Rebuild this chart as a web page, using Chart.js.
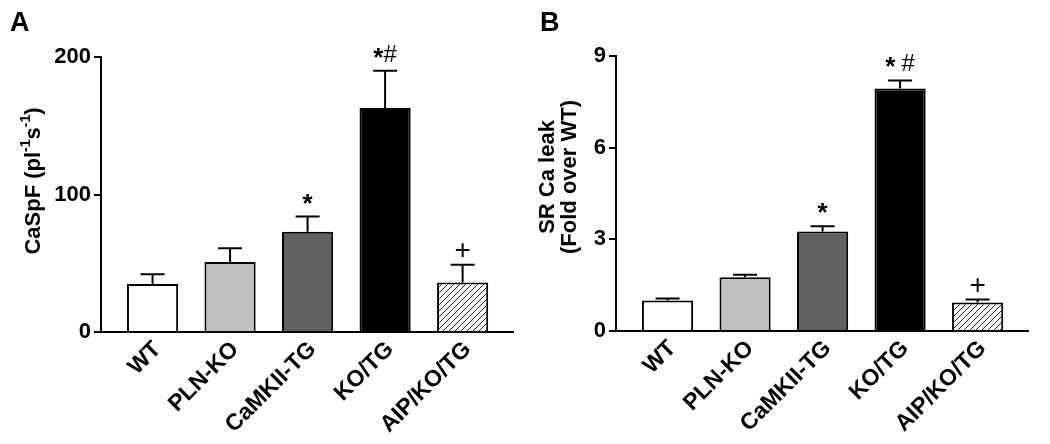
<!DOCTYPE html>
<html>
<head>
<meta charset="utf-8">
<script src="https://cdn.jsdelivr.net/npm/chart.js@4.4.0/dist/chart.umd.min.js"></script>
<style>
  html, body { margin: 0; padding: 0; background: #fff; }
  #wrap { position: relative; width: 1050px; height: 444px; }
  .panel { position: absolute; top: 0; height: 444px; }
  #pa { left: 0; width: 520px; }
  #pb { left: 520px; width: 530px; }
</style>
</head>
<body>
<div id="wrap">
  <div class="panel" id="pa"><canvas id="chartA"></canvas></div>
  <div class="panel" id="pb"><canvas id="chartB"></canvas></div>
</div>
<script>
// data
const categories = ['WT', 'PLN-KO', 'CaMKII-TG', 'KO/TG', 'AIP/KO/TG'];

const sparkMeans = [35, 51, 73, 163, 36];
const sparkSem   = [7, 10, 11, 27, 13];
const sparkMarks = ['', '', '*', '*#', '+'];
const sparkTicks = [0, 100, 200];

const leakMeans = [1.0, 1.76, 3.26, 7.94, 0.93];
const leakSem   = [0.06, 0.08, 0.17, 0.26, 0.10];
const leakMarks = ['', '', '*', '* #', '+'];
const leakTicks = [0, 3, 6, 9];

const FONT = "'Liberation Sans', Arial, Helvetica, sans-serif";

// per-glyph font and baseline shift for significance marks
const markStyle = {
  '*': { font: 'bold 26px ' + FONT, dy: -5 },
  '#': { font: '24px ' + FONT, dy: -9 },
  '+': { font: '28px ' + FONT, dy: -6 },
  ' ': { font: '22px ' + FONT, dy: 0 }
};

function hatchPattern(ctx) {
  const c = document.createElement('canvas');
  c.width = 6; c.height = 6;
  const g = c.getContext('2d');
  g.fillStyle = '#fff';
  g.fillRect(0, 0, 6, 6);
  g.strokeStyle = '#222';
  g.lineWidth = 1;
  g.beginPath();
  g.moveTo(0, 6); g.lineTo(6, 0);
  g.moveTo(-1, 1); g.lineTo(1, -1);
  g.moveTo(5, 7); g.lineTo(7, 5);
  g.stroke();
  return ctx.createPattern(c, 'repeat');
}

function drawRotatedTitle(ctx, cx, cy, segments) {
  ctx.save();
  ctx.translate(cx, cy);
  ctx.rotate(-Math.PI / 2);
  ctx.fillStyle = '#000';
  ctx.textBaseline = 'middle';
  ctx.textAlign = 'left';
  let total = 0;
  segments.forEach(s => {
    ctx.font = s.sup ? 'bold 14px ' + FONT : 'bold 22px ' + FONT;
    s.w = ctx.measureText(s.text).width;
    total += s.w;
  });
  let x = -total / 2;
  segments.forEach(s => {
    ctx.font = s.sup ? 'bold 14px ' + FONT : 'bold 22px ' + FONT;
    ctx.fillText(s.text, x, s.sup ? -8 : 0);
    x += s.w;
  });
  ctx.restore();
}

function overlay(means, sem, marks, letter, letterX, titleFn) {
  return {
    id: 'overlay',
    afterDatasetsDraw(chart) {
      const { ctx, scales: { x, y } } = chart;
      ctx.save();
      // error bars (upper only)
      ctx.strokeStyle = '#000';
      ctx.lineWidth = 2;
      means.forEach((m, i) => {
        const px = x.getPixelForValue(i);
        const y0 = y.getPixelForValue(m);
        const y1 = y.getPixelForValue(m + sem[i]);
        ctx.beginPath();
        ctx.moveTo(px, y0); ctx.lineTo(px, y1);
        ctx.moveTo(px - 12, y1); ctx.lineTo(px + 12, y1);
        ctx.stroke();
      });
      // significance marks
      ctx.fillStyle = '#000';
      ctx.textAlign = 'left';
      ctx.textBaseline = 'alphabetic';
      marks.forEach((m, i) => {
        if (!m) return;
        const top = y.getPixelForValue(means[i] + sem[i]);
        const cx = x.getPixelForValue(i);
        const parts = [...m].map(ch => ({ ch, st: markStyle[ch] }));
        let total = 0;
        parts.forEach(p => { ctx.font = p.st.font; p.w = ctx.measureText(p.ch).width; total += p.w; });
        let px = cx - total / 2;
        parts.forEach(p => { ctx.font = p.st.font; ctx.fillText(p.ch, px, top + p.st.dy); px += p.w; });
      });
      // panel letter
      ctx.font = 'bold 27px ' + FONT;
      ctx.fillText(letter, letterX, 31);
      ctx.restore();
      titleFn(ctx);
    }
  };
}

function makeChart(id, means, sem, marks, ticks, yMax, yWidth, xHeight, pad, letter, letterX, titleFn) {
  const ctx = document.getElementById(id).getContext('2d');
  const fills = ['#ffffff', '#c0c0c0', '#606060', '#000000', hatchPattern(ctx)];
  return new Chart(ctx, {
    type: 'bar',
    data: {
      datasets: [{
        data: categories.map((c, i) => ({ x: i, y: means[i] })),
        backgroundColor: fills,
        borderColor: '#000',
        borderWidth: 2,
        barPercentage: 0.66,
        categoryPercentage: 1
      }]
    },
    options: {
      responsive: true,
      maintainAspectRatio: false,
      animation: false,
      layout: { padding: pad },
      plugins: { legend: { display: false }, tooltip: { enabled: false } },
      scales: {
        x: {
          type: 'linear',
          min: -0.665,
          max: 4.65,
          offset: false,
          grid: { display: false, drawTicks: false, offset: false },
          border: { display: true, color: '#000', width: 2 },
          afterBuildTicks: s => { s.ticks = categories.map((c, i) => ({ value: i })); },
          afterFit: s => { s.height = xHeight; },
          ticks: {
            autoSkip: false,
            minRotation: 45,
            maxRotation: 45,
            padding: 4,
            labelOffset: 5,
            color: '#000',
            font: { family: FONT, size: 23, weight: 'bold' },
            callback: v => categories[v]
          }
        },
        y: {
          min: 0,
          max: yMax,
          afterBuildTicks: s => { s.ticks = ticks.map(v => ({ value: v })); },
          afterFit: s => { s.width = yWidth; },
          grid: { drawOnChartArea: false, drawTicks: true, tickLength: 7, color: '#000', lineWidth: 2 },
          border: { display: true, color: '#000', width: 2 },
          ticks: {
            padding: 3,
            color: '#000',
            font: { family: FONT, size: 22, weight: 'bold' }
          }
        }
      }
    },
    plugins: [overlay(means, sem, marks, letter, letterX, titleFn)]
  });
}

makeChart('chartA', sparkMeans, sparkSem, sparkMarks, sparkTicks, 200, 101, 112,
  { left: 0, right: 7, top: 57, bottom: 0 }, 'A', 10,
  ctx => drawRotatedTitle(ctx, 34, 181, [
    { text: 'CaSpF (pl' }, { text: '-1', sup: true }, { text: 's' }, { text: '-1', sup: true }, { text: ')' }
  ]));

makeChart('chartB', leakMeans, leakSem, leakMarks, leakTicks, 9, 96, 113,
  { left: 0, right: 22, top: 56, bottom: 0 }, 'B', 20,
  ctx => {
    drawRotatedTitle(ctx, 28, 177, [{ text: 'SR Ca leak' }]);
    drawRotatedTitle(ctx, 50, 177, [{ text: '(Fold over WT)' }]);
  });
</script>
</body>
</html>
